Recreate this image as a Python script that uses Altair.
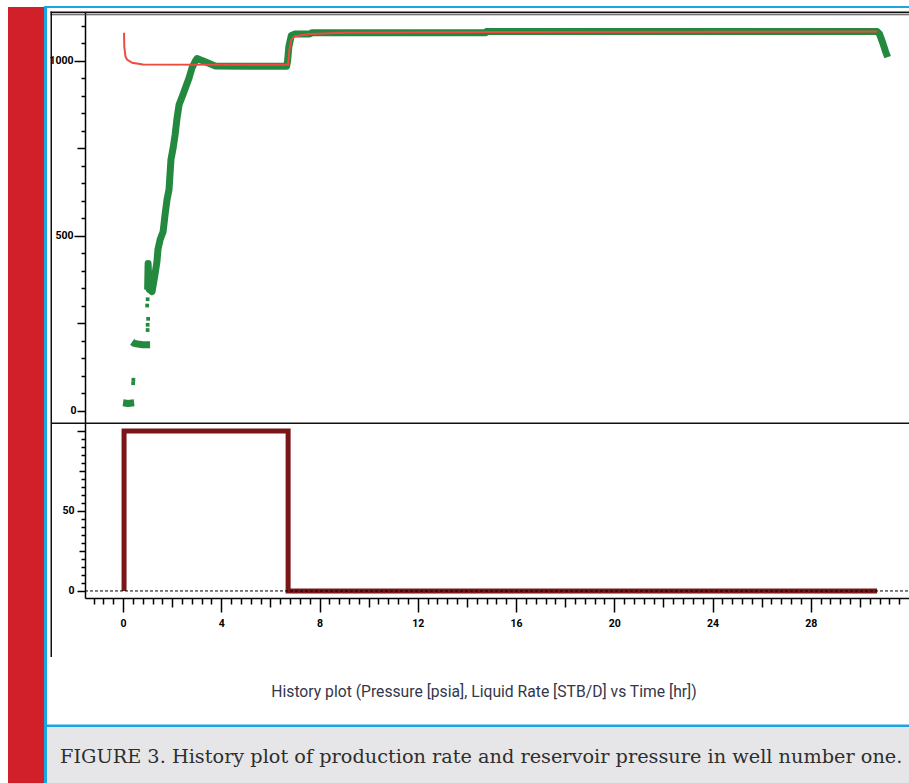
import altair as alt
import pandas as pd

# ---------------- data ----------------
obs_time = [0.0, 0.2, 0.45,
            0.37, 0.45, 0.6, 0.8, 1.1,
            1.0, 1.02, 1.06, 1.18, 1.3, 1.38, 1.42, 1.51, 1.63, 1.71, 1.79, 1.87,
            1.91, 1.95, 2.04, 2.12, 2.2, 2.28, 2.44, 2.56, 2.69, 2.81, 2.93, 3.01,
            3.34, 3.74, 5.0, 6.66, 6.7, 6.75, 6.85, 7.0, 7.6, 7.7, 10.0, 14.77,
            14.8, 20.0, 25.0, 30.7, 30.8, 30.93, 31.05, 31.13]
obs_pres = [22, 20, 22,
            196, 192, 190, 188, 188,
            346, 420, 346, 340, 389, 426, 460, 489, 511, 560, 603, 631,
            674, 717, 751, 789, 837, 874, 903, 926, 951, 980, 997, 1006,
            997, 985, 984, 984, 1000, 1040, 1072, 1076, 1076, 1080, 1080, 1080,
            1083, 1083, 1083, 1083, 1076, 1051, 1025, 1010]
obs_seg = ["a"] * 3 + ["c"] * 5 + ["m"] * 44

sparse_time = [0.41, 0.42, 1.0, 1.0, 1.02, 0.98, 1.0]
sparse_pres = [78, 88, 230, 245, 262, 300, 318]

model_time = [0.04, 0.05, 0.1, 0.16, 0.37, 0.81, 6.72, 6.77, 6.85, 7.0, 7.6, 9.0, 15.0, 30.7]
model_pres = [1080, 1040, 1011, 1003, 994, 989, 988, 1030, 1060, 1070, 1076, 1080, 1082, 1083]

rate_time = [0.04, 0.04, 6.72, 6.72, 30.7]
rate_val = [0, 100, 100, 0, 0]

x_ticks = [round(-1.2 + 0.4 * i, 1) for i in range(83)]
p_ticks = list(range(0, 1101, 50))
r_ticks = list(range(0, 101, 5))

X_DOMAIN = [-1.55, 32.0]
P_DOMAIN = [-35.7, 1139.0]
R_DOMAIN = [-4.4, 105.0]

TITLE = "History plot (Pressure [psia], Liquid Rate [STB/D] vs Time [hr])"
CAPTION = "FIGURE 3. History plot of production rate and reservoir pressure in well number one."

obs_df = pd.DataFrame({"t": obs_time, "p": obs_pres, "seg": obs_seg,
                       "i": list(range(len(obs_time)))})
sparse_df = pd.DataFrame({"t": sparse_time, "p": sparse_pres})
model_df = pd.DataFrame({"t": model_time, "p": model_pres, "i": list(range(len(model_time)))})
rate_df = pd.DataFrame({"t": rate_time, "q": rate_val, "i": list(range(len(rate_time)))})
one = pd.DataFrame({"k": [0]})

# page geometry
PW, PH = 909, 783
OX, OY = 85, 12          # view origin on the page
VW = PW - OX
VB = 598                 # bottom axis line on the page
VH = VB - OY
SEP = 423 - OY           # separator between the panels (view coords)

xscale = alt.Scale(domain=X_DOMAIN, nice=False, zero=False)
pscale = alt.Scale(domain=P_DOMAIN, range=[SEP, 0], nice=False, zero=False)
rscale = alt.Scale(domain=R_DOMAIN, range=[VH, SEP], nice=False, zero=False)

LBL = dict(labelFont="Roboto", labelFontWeight="bold",
           labelFontSize=10.5, labelColor="#000000")
COMMON = dict(title=None, grid=False, domainColor="#000000", domainWidth=1.5,
              tickColor="#000000", tickWidth=1.5, labelOverlap=False, tickCount=200)

x_axis = alt.Axis(
    orient="bottom", values=x_ticks,
    tickSize={"condition": [
        {"test": "round(datum.value*10) % 40 === 0", "value": 14},
        {"test": "round(datum.value*10) % 20 === 0", "value": 9}], "value": 6},
    labelExpr="round(datum.value*10) % 40 === 0 && datum.value >= 0 ? format(datum.value, 'd') : ''",
    labelPadding=6, **COMMON, **LBL)

p_axis = alt.Axis(
    orient="left", values=p_ticks,
    tickSize={"condition": [
        {"test": "datum.value % 500 === 0 && datum.value > 0", "value": 11},
        {"test": "datum.value % 250 === 0", "value": 8}], "value": 4},
    labelExpr="datum.value % 500 === 0 ? format(datum.value, 'd') : ''",
    labelPadding=1, **COMMON, **LBL)

r_axis = alt.Axis(
    orient="left", values=r_ticks,
    tickSize={"condition": [
        {"test": "datum.value % 50 === 0", "value": 8},
        {"test": "datum.value % 25 === 0", "value": 6}], "value": 4},
    labelExpr="datum.value === 0 || datum.value === 50 ? format(datum.value, 'd') : ''",
    labelPadding=3, **COMMON, **LBL)


def box(x1, x2, y1, y2, color):
    """Decoration rectangle given in page pixels."""
    return alt.Chart(one).mark_rect(color=color).encode(
        x=alt.value(x1 - OX), x2=alt.value(x2 - OX),
        y=alt.value(y1 - OY), y2=alt.value(y2 - OY))


decor = [
    box(8, 44, 7, PH, "#d2202b"),
    box(44, 47, 6, PH, "#1ba6e2"),
    box(44, PW, 6, 8, "#1ba6e2"),
    box(47, PW, 727, PH, "#e6e6e8"),
    box(47, PW, 724.5, 727, "#1ba6e2"),
    box(50.5, PW, 11.5, 13.3, "#111111"),
    box(50.5, PW, 14.3, 15.3, "#444444"),
    box(50.5, 52, 11.5, 657, "#111111"),
    box(51, PW, 422.5, 424, "#111111"),
]

# axis is declared once per scale; the other layers leave it unspecified
green = alt.Chart(obs_df).mark_line(color="#23893f", strokeWidth=7, strokeJoin="round").encode(
    x=alt.X("t:Q", scale=xscale, axis=x_axis),
    y=alt.Y("p:Q", scale=pscale, axis=p_axis),
    detail="seg:N",
    order="i:Q",
)
green_pts = alt.Chart(sparse_df).mark_square(color="#23893f", size=14, opacity=1).encode(
    x=alt.X("t:Q", scale=xscale),
    y=alt.Y("p:Q", scale=pscale),
)
red = alt.Chart(model_df).mark_line(color="#ee4a40", strokeWidth=2).encode(
    x=alt.X("t:Q", scale=xscale),
    y=alt.Y("p:Q", scale=pscale),
    order="i:Q",
)
pressure = alt.layer(green, green_pts, red)

rate = alt.Chart(rate_df).mark_line(color="#7b1618", strokeWidth=5, strokeJoin="miter").encode(
    x=alt.X("t:Q", scale=xscale),
    y=alt.Y("q:Q", scale=rscale, axis=r_axis),
    order="i:Q",
)
zero = alt.Chart(one).mark_rule(color="#000000", strokeWidth=1, strokeDash=[3, 2]).encode(
    x=alt.X(datum=X_DOMAIN[0], type="quantitative", scale=xscale),
    x2=alt.X2(datum=X_DOMAIN[1]),
    y=alt.Y(datum=0, type="quantitative", scale=rscale),
)
rates = alt.layer(rate, zero)

title = alt.Chart(one).mark_text(
    text=TITLE, font="Roboto", fontSize=15.7, color="#34364a",
    align="center", baseline="middle").encode(x=alt.value(484 - OX), y=alt.value(692 - OY))
caption = alt.Chart(one).mark_text(
    text=CAPTION, font="DejaVu Serif", fontSize=19.3, color="#2e2e2e",
    align="left", baseline="middle").encode(x=alt.value(60 - OX), y=alt.value(757 - OY))

chart = alt.layer(*decor, pressure, rates, title, caption).resolve_scale(
    y="independent"
).properties(
    width=VW, height=VH,
    padding={"left": OX, "top": OY, "right": 0, "bottom": PH - VB},
    autosize=alt.AutoSizeParams(type="none"),
    background="#ffffff",
).configure_view(stroke="transparent")

chart.save("out.html", embed_options={"renderer": "svg", "actions": False})
